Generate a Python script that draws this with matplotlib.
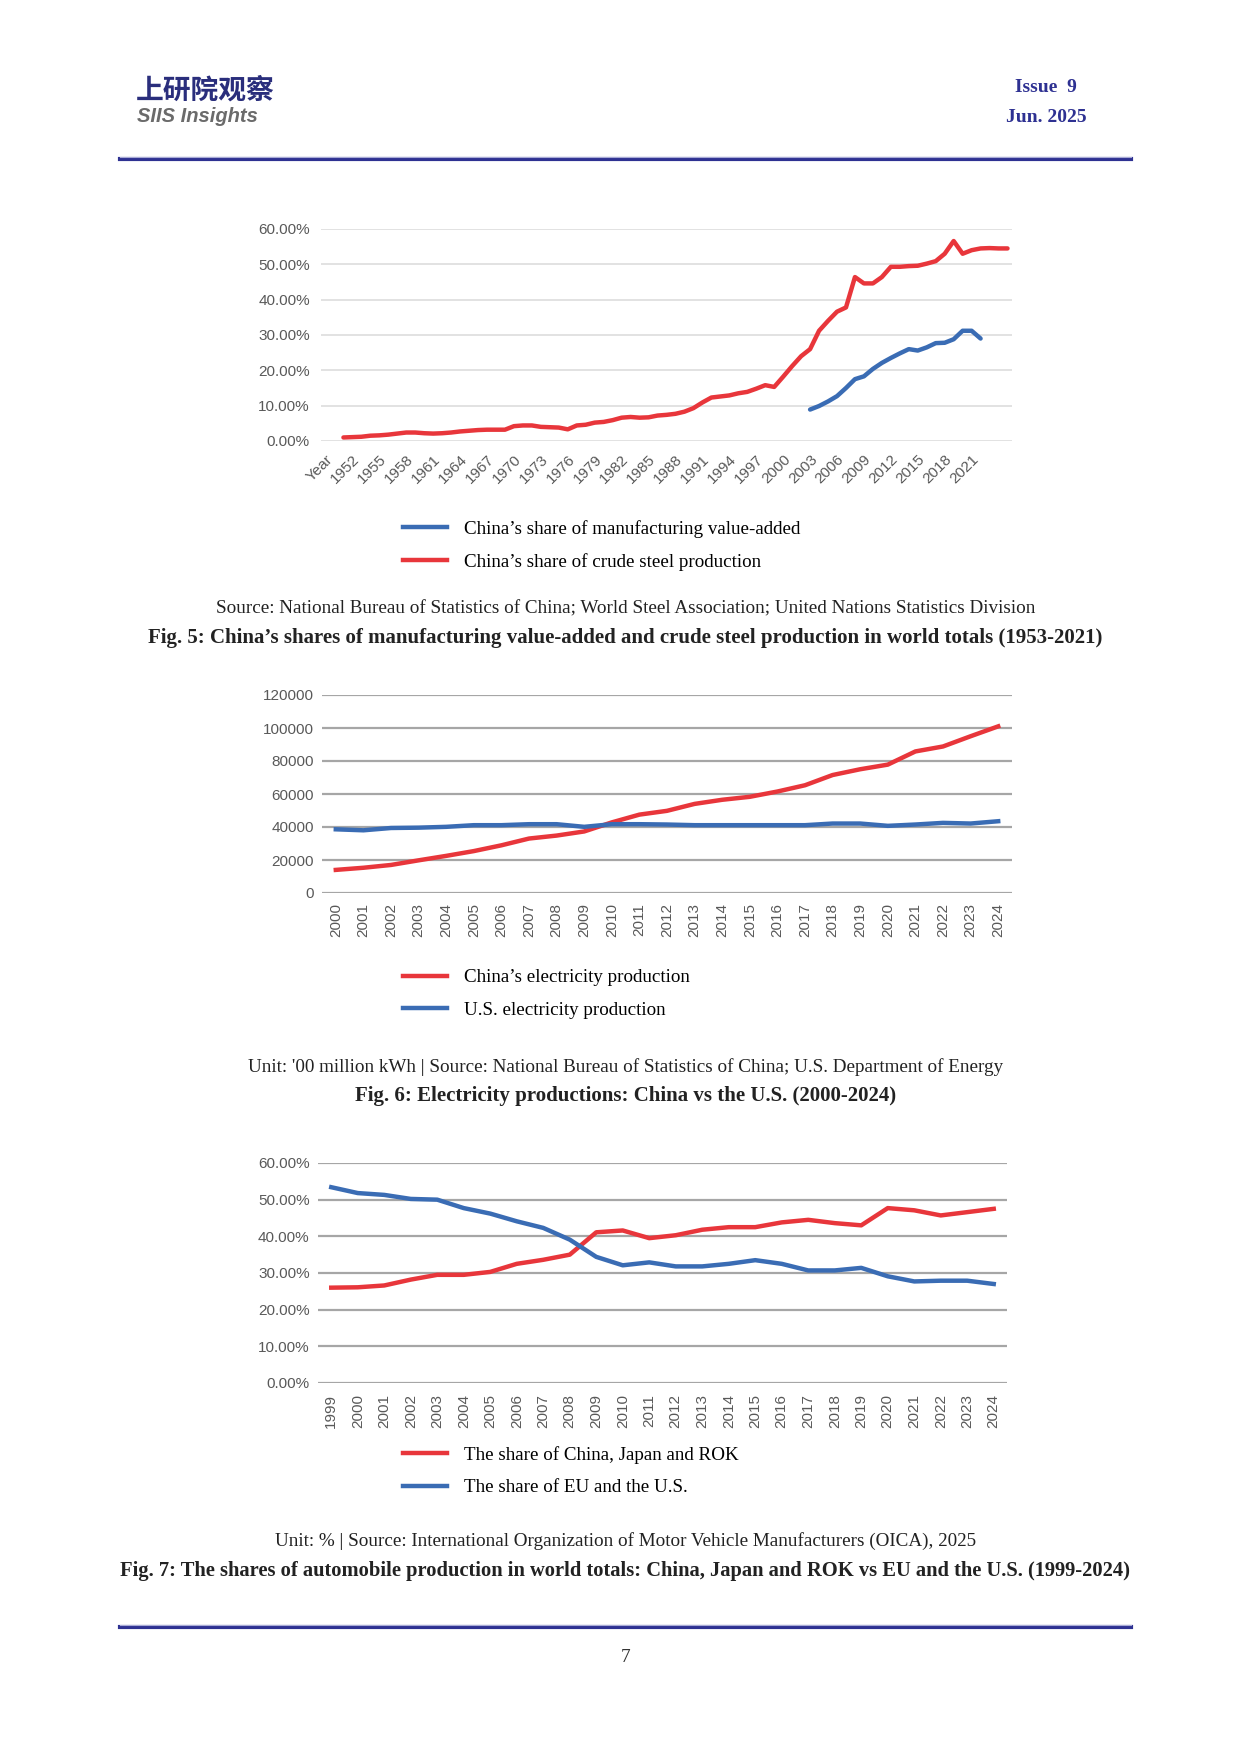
import matplotlib
matplotlib.use("Agg")
import matplotlib.pyplot as plt
from matplotlib.lines import Line2D
from matplotlib.ticker import FuncFormatter, MultipleLocator

W, H = 1241, 1754

# Fig. 5: shares in world totals (%)
fig5_cats = ["Year"] + [str(y) for y in range(1950, 2026)]
steel_years = list(range(1951, 2026))
steel_share = [1.0, 1.1, 1.2, 1.5, 1.6, 1.8, 2.1, 2.4, 2.4, 2.2,
               2.1, 2.2, 2.4, 2.7, 2.9, 3.1, 3.2, 3.2, 3.2, 4.2,
               4.4, 4.4, 4.0, 3.9, 3.8, 3.3, 4.4, 4.6, 5.2, 5.4,
               5.9, 6.6, 6.8, 6.6, 6.7, 7.2, 7.4, 7.7, 8.3, 9.3,
               10.9, 12.3, 12.6, 12.9, 13.5, 13.9, 14.8, 15.8, 15.3, 18.2,
               21.2, 24.0, 26.0, 31.2, 34.0, 36.6, 37.8, 46.4, 44.6, 44.6,
               46.4, 49.3, 49.3, 49.5, 49.6, 50.2, 50.9, 53.0, 56.6, 53.0,
               54.0, 54.5, 54.6, 54.5, 54.5]
mva_years = list(range(2003, 2023))
mva_share = [8.9, 9.9, 11.2, 12.7, 15.0, 17.5, 18.3, 20.4, 22.1, 23.5,
             24.8, 26.0, 25.6, 26.5, 27.7, 27.8, 28.8, 31.2, 31.2, 29.0]

# Fig. 6: electricity production ('00 million kWh)
elec_years = [str(y) for y in range(2000, 2025)]
china_elec = [14000, 15300, 17000, 19800, 22500, 25400, 28900, 33000, 34800, 37300,
              42800, 47500, 49800, 54000, 56500, 58300, 61500, 65300, 71500, 75000,
              77800, 85800, 88800, 95000, 101000]
us_elec = [38600, 38000, 39400, 39600, 40100, 41100, 41100, 41700, 41700, 40100,
           41700, 41700, 41500, 41100, 41100, 41100, 41100, 41100, 42100, 42100,
           40700, 41500, 42500, 42100, 43500]

# Fig. 7: automobile production shares (%)
auto_years = [str(y) for y in range(1999, 2025)]
cjk_share = [26.0, 26.1, 26.6, 28.2, 29.5, 29.5, 30.3, 32.5, 33.6, 35.0,
             41.1, 41.6, 39.5, 40.3, 41.8, 42.5, 42.5, 43.8, 44.5, 43.6,
             43.0, 47.7, 47.1, 45.7, 46.6, 47.5]
euus_share = [53.4, 51.8, 51.3, 50.2, 50.0, 47.7, 46.2, 44.1, 42.3, 39.1,
              34.4, 32.1, 32.9, 31.8, 31.8, 32.5, 33.5, 32.5, 30.7, 30.7,
              31.4, 29.1, 27.7, 27.9, 27.9, 27.0]

RED = "#E8363B"
BLUE = "#3A6CB4"
NAVY = "#2E3192"
TICK = "#595959"
SERIF = ["Liberation Serif", "DejaVu Serif"]

plt.rcParams['font.family'] = ['Liberation Sans Narrow', 'Liberation Sans', 'DejaVu Sans']

fig = plt.figure(figsize=(W / 100, H / 100), dpi=100)


def fx(x):
    return x / W


def fy(y):
    return 1 - y / H


def px_axes(left, top, right, bottom):
    return fig.add_axes([fx(left), fy(bottom), (right - left) / W, (bottom - top) / H])


def style_axes(ax, grid_color, grid_lw):
    for s in ax.spines.values():
        s.set_visible(False)
    ax.tick_params(length=0, labelsize=11, colors=TICK)
    ax.yaxis.grid(True, color=grid_color, lw=grid_lw)
    ax.set_axisbelow(True)


def pct(v, _):
    return "%.2f%%" % v


def legend(ax, y_top, handles):
    ax.legend(handles=handles, loc="upper left", frameon=False,
              bbox_to_anchor=(fx(403), fy(y_top)), bbox_transform=fig.transFigure,
              prop={'family': SERIF, 'size': 13.7}, handlelength=2.3,
              handletextpad=0.9, labelspacing=0.8, borderaxespad=0, borderpad=0)


# header
fig.text(fx(136), fy(91), "上研院观察", fontsize=20, color="#2A2E7C", fontweight="bold",
         family=['Noto Sans CJK SC', 'DejaVu Sans'], va="center", ha="left")
fig.text(fx(137), fy(117), "SIIS Insights", fontsize=14.5, color="#6B6B6B",
         fontweight="bold", style="italic", family=['Liberation Sans', 'DejaVu Sans'],
         va="center", ha="left")
fig.text(fx(1046), fy(87), "Issue  9", fontsize=14, color=NAVY, fontweight="bold",
         family=SERIF, va="center", ha="center")
fig.text(fx(1046), fy(117), "Jun. 2025", fontsize=14, color=NAVY, fontweight="bold",
         family=SERIF, va="center", ha="center")
for yy in (159, 1627):
    fig.add_artist(Line2D([fx(120), fx(1131)], [fy(yy), fy(yy)], color=NAVY, lw=3))
    fig.add_artist(Line2D([fx(120), fx(1131)], [fy(yy - 2.5), fy(yy - 2.5)],
                          color="#A9ABD6", lw=0.8))
fig.text(0.504, fy(1657), "7", fontsize=14, color="#333333", family=SERIF,
         va="center", ha="center")

# ---- Fig. 5 ----
ax5 = px_axes(321, 229, 1012, 441)
style_axes(ax5, "#DDDDDD", 1.2)
x_steel = [fig5_cats.index(str(y)) for y in steel_years]
x_mva = [fig5_cats.index(str(y)) for y in mva_years]
ax5.plot(x_mva, mva_share, color=BLUE, lw=3.2, solid_capstyle="round")
ax5.plot(x_steel, steel_share, color=RED, lw=3.2, solid_capstyle="round")
ax5.set_ylim(0, 60)
ax5.set_xlim(-0.5, len(fig5_cats) - 0.5)
ax5.yaxis.set_major_locator(MultipleLocator(10))
ax5.yaxis.set_major_formatter(FuncFormatter(pct))
ax5.set_xticks(range(0, 73, 3))
ax5.set_xticklabels(fig5_cats[0:73:3], rotation=45, ha="right", rotation_mode="anchor")
ax5.tick_params(axis="y", pad=8)
ax5.tick_params(axis="x", pad=8)
legend(ax5, 520, [Line2D([], [], color=BLUE, lw=3.2, label="China\u2019s share of manufacturing value-added"),
                  Line2D([], [], color=RED, lw=3.2, label="China\u2019s share of crude steel production")])
fig.text(0.504, fy(609),
         "Source: National Bureau of Statistics of China; World Steel Association; United Nations Statistics Division",
         family=SERIF, fontsize=13.8, color="#222222", ha="center", va="center")
fig.text(0.504, fy(638),
         "Fig. 5: China\u2019s shares of manufacturing value-added and crude steel production in world totals (1953-2021)",
         family=SERIF, fontsize=15, fontweight="bold", color="#222222", ha="center", va="center")

# ---- Fig. 6 ----
ax6 = px_axes(322, 695, 1012, 893)
style_axes(ax6, "#A6A6A6", 1.6)
ax6.plot(range(len(elec_years)), china_elec, color=RED, lw=3.2)
ax6.plot(range(len(elec_years)), us_elec, color=BLUE, lw=3.2)
ax6.set_ylim(0, 120000)
ax6.set_xlim(-0.5, len(elec_years) - 0.5)
ax6.yaxis.set_major_locator(MultipleLocator(20000))
ax6.set_xticks(range(len(elec_years)))
ax6.set_xticklabels(elec_years, rotation=90)
ax6.tick_params(axis="y", pad=6)
ax6.tick_params(axis="x", pad=7)
legend(ax6, 969, [Line2D([], [], color=RED, lw=3.2, label="China\u2019s electricity production"),
                  Line2D([], [], color=BLUE, lw=3.2, label="U.S. electricity production")])
fig.text(0.504, fy(1067),
         "Unit: '00 million kWh | Source: National Bureau of Statistics of China; U.S. Department of Energy",
         family=SERIF, fontsize=13.8, color="#222222", ha="center", va="center")
fig.text(0.504, fy(1096), "Fig. 6: Electricity productions: China vs the U.S. (2000-2024)",
         family=SERIF, fontsize=15, fontweight="bold", color="#222222", ha="center", va="center")

# ---- Fig. 7 ----
ax7 = px_axes(318, 1163, 1007, 1383)
style_axes(ax7, "#A6A6A6", 1.6)
ax7.plot(range(len(auto_years)), cjk_share, color=RED, lw=3.2)
ax7.plot(range(len(auto_years)), euus_share, color=BLUE, lw=3.2)
ax7.set_ylim(0, 60)
ax7.set_xlim(-0.5, len(auto_years) - 0.5)
ax7.yaxis.set_major_locator(MultipleLocator(10))
ax7.yaxis.set_major_formatter(FuncFormatter(pct))
ax7.set_xticks(range(len(auto_years)))
ax7.set_xticklabels(auto_years, rotation=90)
ax7.tick_params(axis="y", pad=6)
ax7.tick_params(axis="x", pad=8)
legend(ax7, 1446, [Line2D([], [], color=RED, lw=3.2, label="The share of China, Japan and ROK"),
                   Line2D([], [], color=BLUE, lw=3.2, label="The share of EU and the U.S.")])
fig.text(0.504, fy(1541),
         "Unit: % | Source: International Organization of Motor Vehicle Manufacturers (OICA), 2025",
         family=SERIF, fontsize=13.8, color="#222222", ha="center", va="center")
fig.text(0.504, fy(1571),
         "Fig. 7: The shares of automobile production in world totals: China, Japan and ROK vs EU and the U.S. (1999-2024)",
         family=SERIF, fontsize=14.8, fontweight="bold", color="#222222", ha="center", va="center")

fig.savefig("out.png", dpi=100, facecolor="white")
